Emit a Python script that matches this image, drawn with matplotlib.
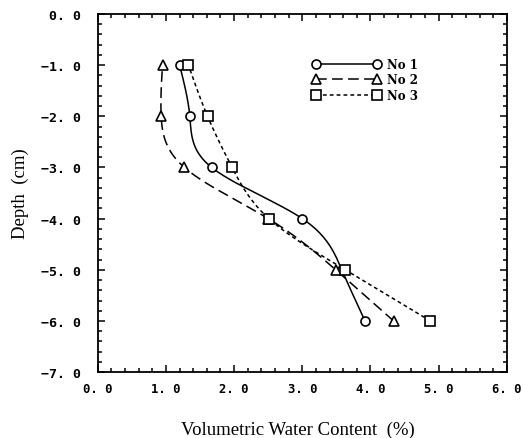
import numpy as np
import matplotlib.pyplot as plt
from matplotlib.ticker import MultipleLocator, FuncFormatter

plt.rcParams["figure.dpi"] = 100

depth = [-1.0, -2.0, -3.0, -4.0, -5.0, -6.0]
no1 = [1.20, 1.35, 1.67, 3.00, 3.58, 3.92]
no2 = [0.95, 0.93, 1.27, 2.50, 3.49, 4.34]
no3 = [1.33, 1.61, 1.97, 2.51, 3.63, 4.88]
names = ['No 1', 'No 2', 'No 3']


def spline(y, x, n=200):
    # natural cubic spline x(y), only used to draw the smooth line
    y = np.asarray(y, float)[::-1]
    x = np.asarray(x, float)[::-1]
    h = np.diff(y)
    m = len(y)
    A = np.zeros((m, m))
    b = np.zeros(m)
    A[0, 0] = A[-1, -1] = 1
    for i in range(1, m - 1):
        A[i, i - 1] = h[i - 1]
        A[i, i] = 2 * (h[i - 1] + h[i])
        A[i, i + 1] = h[i]
        b[i] = 3 * ((x[i + 1] - x[i]) / h[i] - (x[i] - x[i - 1]) / h[i - 1])
    c = np.linalg.solve(A, b)
    yy = np.linspace(y[0], y[-1], n)
    idx = np.clip(np.searchsorted(y, yy) - 1, 0, m - 2)
    d = yy - y[idx]
    bb = (x[idx + 1] - x[idx]) / h[idx] - h[idx] * (2 * c[idx] + c[idx + 1]) / 3
    dd = (c[idx + 1] - c[idx]) / (3 * h[idx])
    xx = x[idx] + bb * d + c[idx] * d ** 2 + dd * d ** 3
    return xx, yy


fig = plt.figure(figsize=(5.23, 4.39))
ax = fig.add_axes([0.187, 0.150, 0.782, 0.816])

styles = [dict(marker='o', ls='-'),
          dict(marker='^', ls=(0, (7, 3.5))),
          dict(marker='s', ls=(0, (2.5, 2)))]

for xs, name, st in zip([no1, no2, no3], names, styles):
    sx, sy = spline(depth, xs)
    ax.plot(sx, sy, color='black', lw=1.1, ls=st['ls'])
    ax.plot(xs, depth, ls='none', marker=st['marker'], ms=6.5,
            mfc='white', mec='black', mew=1.2)

handles = [plt.Line2D([], [], color='black', lw=1.1, ls=st['ls'],
                      marker=st['marker'], ms=6.5, mfc='white',
                      mec='black', mew=1.2) for st in styles]
leg = ax.legend(handles, names, loc='upper left', bbox_to_anchor=(0.5, 0.907),
                frameon=False, numpoints=2, handlelength=5.7,
                handletextpad=0.6, labelspacing=0.22,
                prop=dict(family='DejaVu Serif', weight='bold', size=8.5))

ax.set_xlim(0, 6)
ax.set_ylim(-7, 0)
ax.xaxis.set_major_locator(MultipleLocator(1))
ax.yaxis.set_major_locator(MultipleLocator(1))
ax.xaxis.set_minor_locator(MultipleLocator(0.2))
ax.yaxis.set_minor_locator(MultipleLocator(0.2))
fmt = FuncFormatter(lambda v, p: ('\u2212' if v < -1e-9 else '') + '%d. 0' % abs(round(v)))
ax.xaxis.set_major_formatter(fmt)
ax.yaxis.set_major_formatter(fmt)
ax.tick_params(which='both', direction='in', top=True, right=True, width=1.1)
ax.tick_params(which='major', length=5)
ax.tick_params(which='minor', length=3)
ax.tick_params(axis='x', pad=7)
ax.tick_params(axis='y', pad=12)
for lab in ax.get_yticklabels():
    lab.set_family('DejaVu Sans Mono')
    lab.set_weight('bold')
    lab.set_size(9.5)
for lab in ax.get_xticklabels():
    lab.set_family('DejaVu Sans Mono')
    lab.set_weight('bold')
    lab.set_size(8.8)
for s in ax.spines.values():
    s.set_linewidth(1.3)

ax.set_xlabel('Volumetric Water Content  (%)', family='Liberation Serif',
              size=13.5, labelpad=11)
ax.xaxis.set_label_coords(0.49, -0.135)
ax.set_ylabel('Depth  (cm)', family='Liberation Serif', size=13.5, labelpad=9)

plt.savefig('out.png')
